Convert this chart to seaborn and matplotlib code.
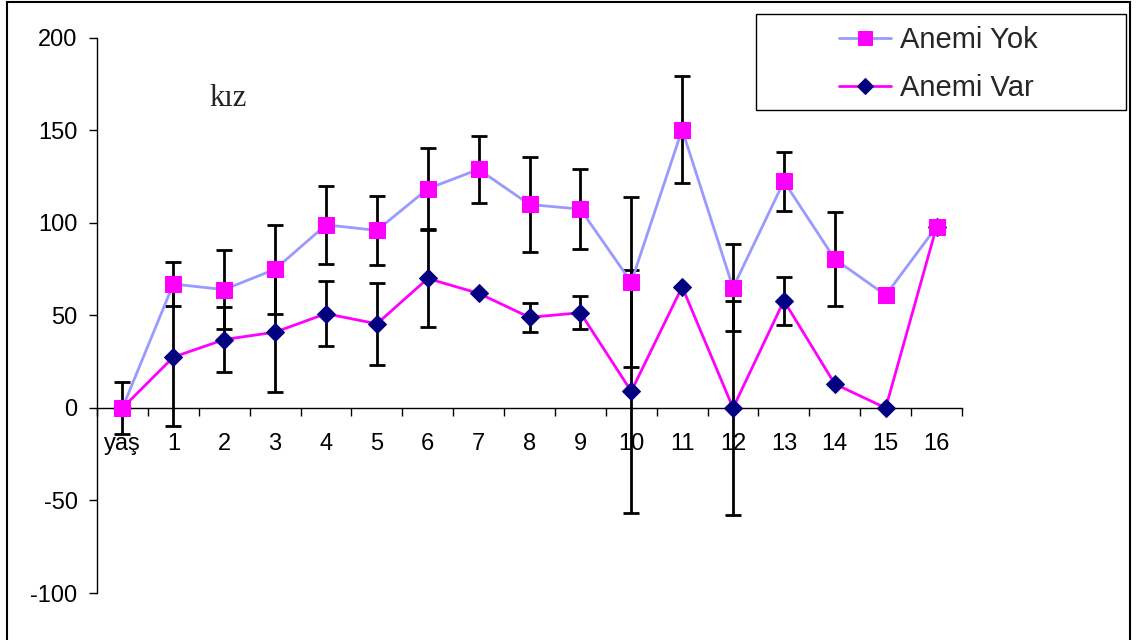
import matplotlib
matplotlib.use("Agg")
import matplotlib.pyplot as plt
from matplotlib.patches import Rectangle
import seaborn as sns
import numpy as np
import pandas as pd

# ---- data ----
categories = ['yaş', '1', '2', '3', '4', '5', '6', '7', '8', '9', '10',
              '11', '12', '13', '14', '15', '16']
yok_mean = [0, 67, 64, 75, 99, 96, 118.5, 129, 110, 107.5, 68, 150.5, 65, 122.5, 80.5, 61, 98]
yok_err = [14, 12, 21.5, 24, 21, 18.5, 22, 18, 25.5, 21.5, 46, 29, 23.5, 16, 25.5, 0, 0]
var_mean = [0, 27.5, 37, 41, 51, 45.5, 70, 62, 49, 51.5, 9, 65.5, 0, 58, 13, 0, 98]
var_err = [0, 37.5, 17.5, 32.5, 17.5, 22, 26, 0, 8, 9, 65.5, 0, 58, 13, 0, 0, 0]
series_names = ['Anemi Yok', 'Anemi Var']
y_ticks = [-100, -50, 0, 50, 100, 150, 200]
note_text = 'kız'

sns.set_theme(style='white')
plt.rcParams['font.family'] = ['Liberation Sans', 'DejaVu Sans']
plt.rcParams['axes.unicode_minus'] = False

pos = np.arange(len(categories))
df = pd.DataFrame({'pos': pos, 'yok': yok_mean, 'yok_err': yok_err,
                   'var': var_mean, 'var_err': var_err})

fig = plt.figure(figsize=(11.4, 6.4), dpi=100)
ax = fig.add_axes([97 / 1140, 1 - 593 / 640, (962 - 97) / 1140, (593 - 38) / 640])

# error bars (under markers)
m = df['yok_err'] > 0
ax.errorbar(df.loc[m, 'pos'], df.loc[m, 'yok'], yerr=df.loc[m, 'yok_err'], fmt='none',
            ecolor='black', elinewidth=2.0, capsize=5.5, capthick=2.0, zorder=2)
m = df['var_err'] > 0
ax.errorbar(df.loc[m, 'pos'], df.loc[m, 'var'], yerr=df.loc[m, 'var_err'], fmt='none',
            ecolor='black', elinewidth=2.0, capsize=5.5, capthick=2.0, zorder=2)

sns.lineplot(data=df, x='pos', y='var', ax=ax, color='#FF00FF', linewidth=2.0,
             marker='D', markersize=9, markerfacecolor='#000080', markeredgecolor='#000080',
             label=series_names[1], zorder=3)
sns.lineplot(data=df, x='pos', y='yok', ax=ax, color='#9999FF', linewidth=2.0,
             marker='s', markersize=11.5, markerfacecolor='#FF00FF', markeredgecolor='#FF00FF',
             label=series_names[0], zorder=4)

handles, labels = ax.get_legend_handles_labels()
if ax.get_legend() is not None:
    ax.get_legend().remove()

ax.set_xlim(-0.5, len(categories) - 0.5)
ax.set_ylim(-100, 200)
ax.set_xlabel('')
ax.set_ylabel('')

for s in ['top', 'right']:
    ax.spines[s].set_visible(False)
ax.spines['bottom'].set_position(('data', 0))
ax.spines['left'].set_color('black')
ax.spines['bottom'].set_color('black')
ax.spines['left'].set_linewidth(1.0)
ax.spines['bottom'].set_linewidth(1.0)

ax.set_xticks(pos)
ax.set_xticklabels(categories)
ax.set_xticks(np.arange(-0.5, len(categories), 1.0), minor=True)
ax.tick_params(axis='x', which='major', length=0, pad=18, labelsize=17, colors='black')
ax.tick_params(axis='x', which='minor', length=6, width=1, direction='out', bottom=True, color='black')
ax.set_yticks(y_ticks)
ax.tick_params(axis='y', which='major', length=6, width=1, direction='out', left=True,
               pad=8, labelsize=17, colors='black')
ax.grid(False)
ax.set_facecolor('none')

ax.text(228 / 1140, 1 - 98 / 640, note_text, transform=fig.transFigure, ha='center', va='center',
        fontsize=22, family=['Liberation Serif', 'DejaVu Serif'])

# legend
order = [labels.index(series_names[0]), labels.index(series_names[1])]
leg = fig.legend([handles[i] for i in order], [labels[i] for i in order],
                 loc='center', bbox_to_anchor=(938 / 1140, 1 - 64 / 640),
                 bbox_transform=fig.transFigure, frameon=False, fontsize=21,
                 handlelength=1.8, handletextpad=0.3, labelspacing=0.68, markerscale=0.85,
                 borderpad=0.2)
fig.patches.append(Rectangle((756 / 1140, 1 - 110 / 640), (1126 - 756) / 1140, 96 / 640,
                             transform=fig.transFigure, fill=False, edgecolor='black',
                             linewidth=1.0, zorder=5))
# outer chart border
fig.patches.append(Rectangle((7 / 1140, -0.02), (1130 - 7) / 1140, 1.0 + 0.02 - 2 / 640,
                             transform=fig.transFigure, fill=False, edgecolor='black',
                             linewidth=1.5, zorder=5))

fig.savefig('out.png', dpi=100, facecolor='white')
